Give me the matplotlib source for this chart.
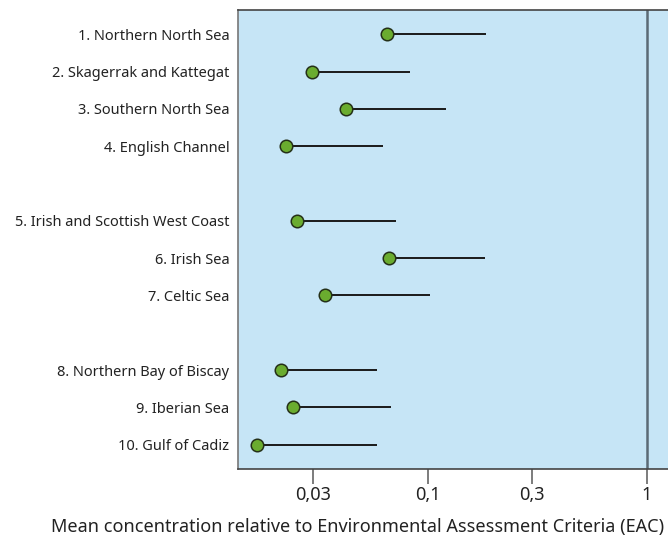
import matplotlib.pyplot as plt
from matplotlib.ticker import FixedLocator, NullLocator

regions = [
    "1. Northern North Sea",
    "2. Skagerrak and Kattegat",
    "3. Southern North Sea",
    "4. English Channel",
    "5. Irish and Scottish West Coast",
    "6. Irish Sea",
    "7. Celtic Sea",
    "8. Northern Bay of Biscay",
    "9. Iberian Sea",
    "10. Gulf of Cadiz",
]
mean_eac = [0.0652, 0.0295, 0.0422, 0.0224, 0.0253, 0.0668, 0.0339, 0.0213, 0.0243, 0.0166]
upper_eac = [0.184, 0.0828, 0.121, 0.0625, 0.0712, 0.183, 0.102, 0.0585, 0.0680, 0.0585]
tick_values = [0.03, 0.1, 0.3, 1]
tick_labels = ["0,03", "0,1", "0,3", "1"]

# rows grouped by sea area, one empty row between groups
rows = [0, 1, 2, 3, 5, 6, 7, 9, 10, 11]

plt.rcParams['font.family'] = ['Noto Sans', 'DejaVu Sans']

fig = plt.figure(figsize=(6.68, 5.42), dpi=100)
ax = fig.add_axes([0.356, 0.1347, 0.644, 0.8468])
ax.set_facecolor("#c6e5f6")

ax.hlines(rows, mean_eac, upper_eac, color="#1a1a1a", linewidth=1.4, zorder=2)
ax.plot(mean_eac, rows, linestyle="none", marker="o", markersize=9,
        markerfacecolor="#6aac2f", markeredgecolor="#243018", markeredgewidth=1.1, zorder=3)
ax.axvline(1, color="#5b6a75", linewidth=1.8, zorder=1)

ax.set_xscale("log")
ax.set_xlim(0.01356, 1.25)
ax.xaxis.set_major_locator(FixedLocator(tick_values))
ax.xaxis.set_minor_locator(NullLocator())
ax.set_xticklabels(tick_labels, fontsize=13, color="#222222")
ax.tick_params(axis="x", length=10.5, width=1.2, color="#666666", pad=2)

ax.set_ylim(11.65, -0.65)
ax.set_yticks(rows)
ax.set_yticklabels(regions, fontsize=10.5, color="#222222")
ax.tick_params(axis="y", length=0, pad=6)

fig.text(0.535, 1 - 527 / 542,
         "Mean concentration relative to Environmental Assessment Criteria (EAC)",
         fontsize=13, color="#222222", ha="center", va="center")

for side in ["top", "bottom"]:
    ax.spines[side].set_color("#444444")
    ax.spines[side].set_linewidth(1.2)
ax.spines["left"].set_color("#777777")
ax.spines["left"].set_linewidth(1.2)
ax.spines["right"].set_visible(False)

fig.savefig("out.png", dpi=100)
